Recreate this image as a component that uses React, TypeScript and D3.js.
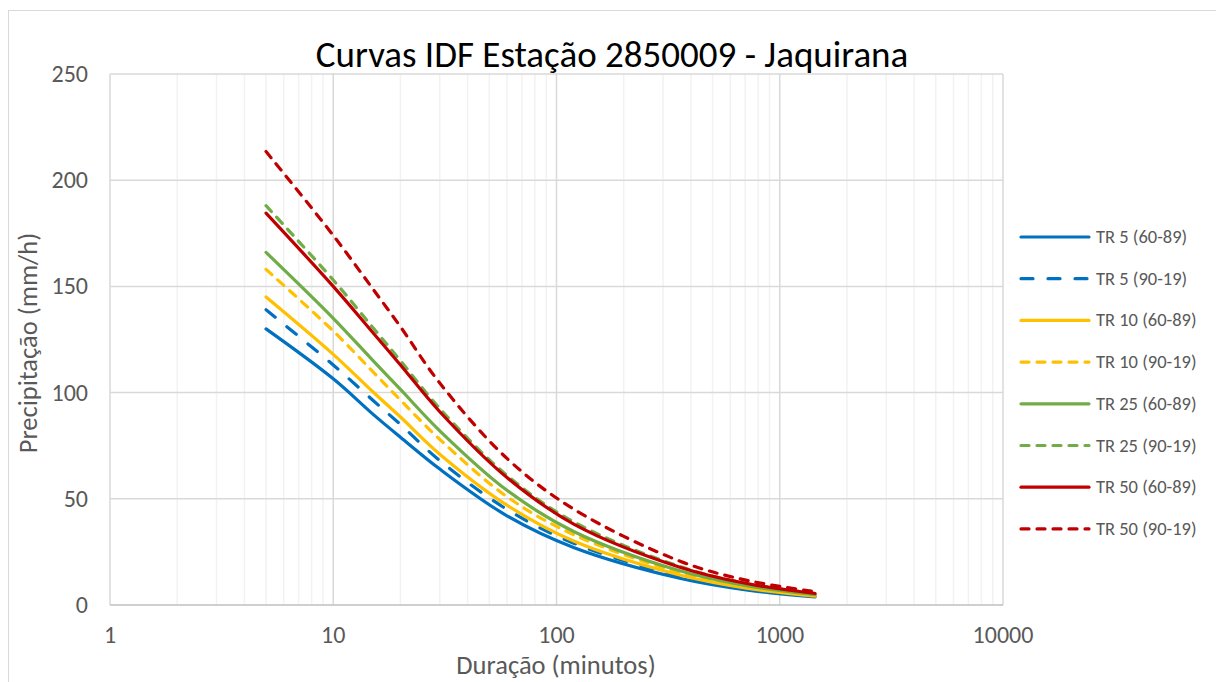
import { useEffect, useRef } from "react";
import * as d3 from "d3";

// durations (minutes)
const durations = [5, 10, 15, 20, 30, 60, 120, 360, 720, 1440];

const seriesNames = [
  "TR 5 (60-89)",
  "TR 5 (90-19)",
  "TR 10 (60-89)",
  "TR 10 (90-19)",
  "TR 25 (60-89)",
  "TR 25 (90-19)",
  "TR 50 (60-89)",
  "TR 50 (90-19)",
];

// intensities (mm/h)
const tr5a = [130, 106.5, 90, 79, 64, 42, 27, 12.5, 7, 3.8];
const tr5b = [139, 113, 96.5, 85, 68, 45, 29, 13.4, 7.5, 4.1];
const tr10a = [145, 118, 100.5, 88.5, 71, 47, 30, 14, 7.8, 4.2];
const tr10b = [158, 129, 110, 96.5, 78, 51, 33, 15.2, 8.5, 4.6];
const tr25a = [166, 135, 115.3, 101.5, 82, 54, 34.5, 16, 9, 4.9];
const tr25b = [188, 153, 130.8, 115, 92.5, 61, 39, 18, 10, 5.5];
const tr50a = [184.5, 150, 128.4, 113, 91, 60, 38, 17.7, 10, 5.4];
const tr50b = [213.5, 174, 149, 131, 104.5, 69, 45, 20.5, 11.5, 6.3];

const seriesValues = [tr5a, tr5b, tr10a, tr10b, tr25a, tr25b, tr50a, tr50b];

const COLORS = ["#0070c0", "#0070c0", "#ffc000", "#ffc000", "#70ad47", "#70ad47", "#c00000", "#c00000"];
const DASHES = ["", "12,15", "", "8,8", "", "8,8", "", "8,8"];

const yTicks = [0, 50, 100, 150, 200, 250];
const xTicks = [1, 10, 100, 1000, 10000];

const App = () => {
  const svgRef = useRef<SVGSVGElement>(null);

  useEffect(() => {
    if (!svgRef.current) return;
    const width = 1216;
    const height = 682;
    const margin = { top: 74, right: 213, bottom: 77, left: 110 };

    const svg = d3.select(svgRef.current);
    svg.selectAll("*").remove();

    const x = d3.scaleLog().domain([1, 10000]).range([margin.left, width - margin.right]);
    const y = d3.scaleLinear().domain([0, 250]).range([height - margin.bottom, margin.top]);

    const font = "Calibri, Carlito, 'Noto Sans', sans-serif";
    const textColor = "#595959";

    // chart border
    svg
      .append("rect")
      .attr("x", 8.5)
      .attr("y", 10.5)
      .attr("width", 1220)
      .attr("height", 700)
      .attr("fill", "white")
      .attr("stroke", "#d9d9d9");

    // minor vertical gridlines
    const minor: number[] = [];
    for (let dec = 1; dec < 10000; dec *= 10) {
      for (let k = 2; k < 10; k++) minor.push(dec * k);
    }
    svg
      .append("g")
      .selectAll("line")
      .data(minor)
      .join("line")
      .attr("x1", (d) => x(d))
      .attr("x2", (d) => x(d))
      .attr("y1", y(250))
      .attr("y2", y(0))
      .attr("stroke", "#f2f2f2")
      .attr("stroke-width", 1.5);

    // major gridlines
    svg
      .append("g")
      .selectAll("line")
      .data(xTicks)
      .join("line")
      .attr("x1", (d) => x(d))
      .attr("x2", (d) => x(d))
      .attr("y1", y(250))
      .attr("y2", y(0))
      .attr("stroke", "#d9d9d9")
      .attr("stroke-width", 1.5);

    svg
      .append("g")
      .selectAll("line")
      .data(yTicks)
      .join("line")
      .attr("x1", x(1))
      .attr("x2", x(10000))
      .attr("y1", (d) => y(d))
      .attr("y2", (d) => y(d))
      .attr("stroke", (d) => (d === 0 ? "#bfbfbf" : "#d9d9d9"))
      .attr("stroke-width", 1.5);

    // tick labels
    svg
      .append("g")
      .selectAll("text")
      .data(yTicks)
      .join("text")
      .attr("x", 88)
      .attr("y", (d) => y(d) + 8)
      .attr("text-anchor", "end")
      .attr("font-family", font)
      .attr("font-size", "24px")
      .attr("fill", textColor)
      .text((d) => d);

    svg
      .append("g")
      .selectAll("text")
      .data(xTicks)
      .join("text")
      .attr("x", (d) => x(d))
      .attr("y", 643)
      .attr("text-anchor", "middle")
      .attr("font-family", font)
      .attr("font-size", "24px")
      .attr("fill", textColor)
      .text((d) => d);

    // lines
    const line = d3
      .line<number>()
      .x((_, i) => x(durations[i]))
      .y((d) => y(d))
      .curve(d3.curveCatmullRom.alpha(0.5));

    seriesValues.forEach((vals, i) => {
      svg
        .append("path")
        .attr("d", line(vals))
        .attr("fill", "none")
        .attr("stroke", COLORS[i])
        .attr("stroke-width", 3.2)
        .attr("stroke-linecap", "round")
        .attr("stroke-dasharray", DASHES[i] || null);
    });

    // legend
    const legend = svg.append("g");
    seriesNames.forEach((name, i) => {
      const ly = 237 + i * 41.7;
      legend
        .append("line")
        .attr("x1", 1021)
        .attr("x2", 1089)
        .attr("y1", ly)
        .attr("y2", ly)
        .attr("stroke", COLORS[i])
        .attr("stroke-width", 3.2)
        .attr("stroke-linecap", "round")
        .attr("stroke-dasharray", DASHES[i] || null);
      legend
        .append("text")
        .attr("x", 1096)
        .attr("y", ly + 6)
        .attr("font-family", font)
        .attr("font-size", "18.5px")
        .attr("fill", textColor)
        .text(name);
    });

    // title
    svg
      .append("text")
      .attr("x", 612)
      .attr("y", 67)
      .attr("text-anchor", "middle")
      .attr("font-family", font)
      .attr("font-size", "37px")
      .attr("fill", "#000")
      .text("Curvas IDF Estação 2850009 - Jaquirana");

    // axis titles
    svg
      .append("text")
      .attr("x", 556)
      .attr("y", 674)
      .attr("text-anchor", "middle")
      .attr("font-family", font)
      .attr("font-size", "26.5px")
      .attr("fill", textColor)
      .text("Duração (minutos)");

    svg
      .append("text")
      .attr("transform", `translate(37,343) rotate(-90)`)
      .attr("text-anchor", "middle")
      .attr("font-family", font)
      .attr("font-size", "26.5px")
      .attr("fill", textColor)
      .text("Precipitação (mm/h)");
  }, []);

  return (
    <svg
      ref={svgRef}
      width={1216}
      height={682}
      style={{ position: "absolute", left: 0, top: 0, background: "white" }}
    />
  );
};

export default App;
